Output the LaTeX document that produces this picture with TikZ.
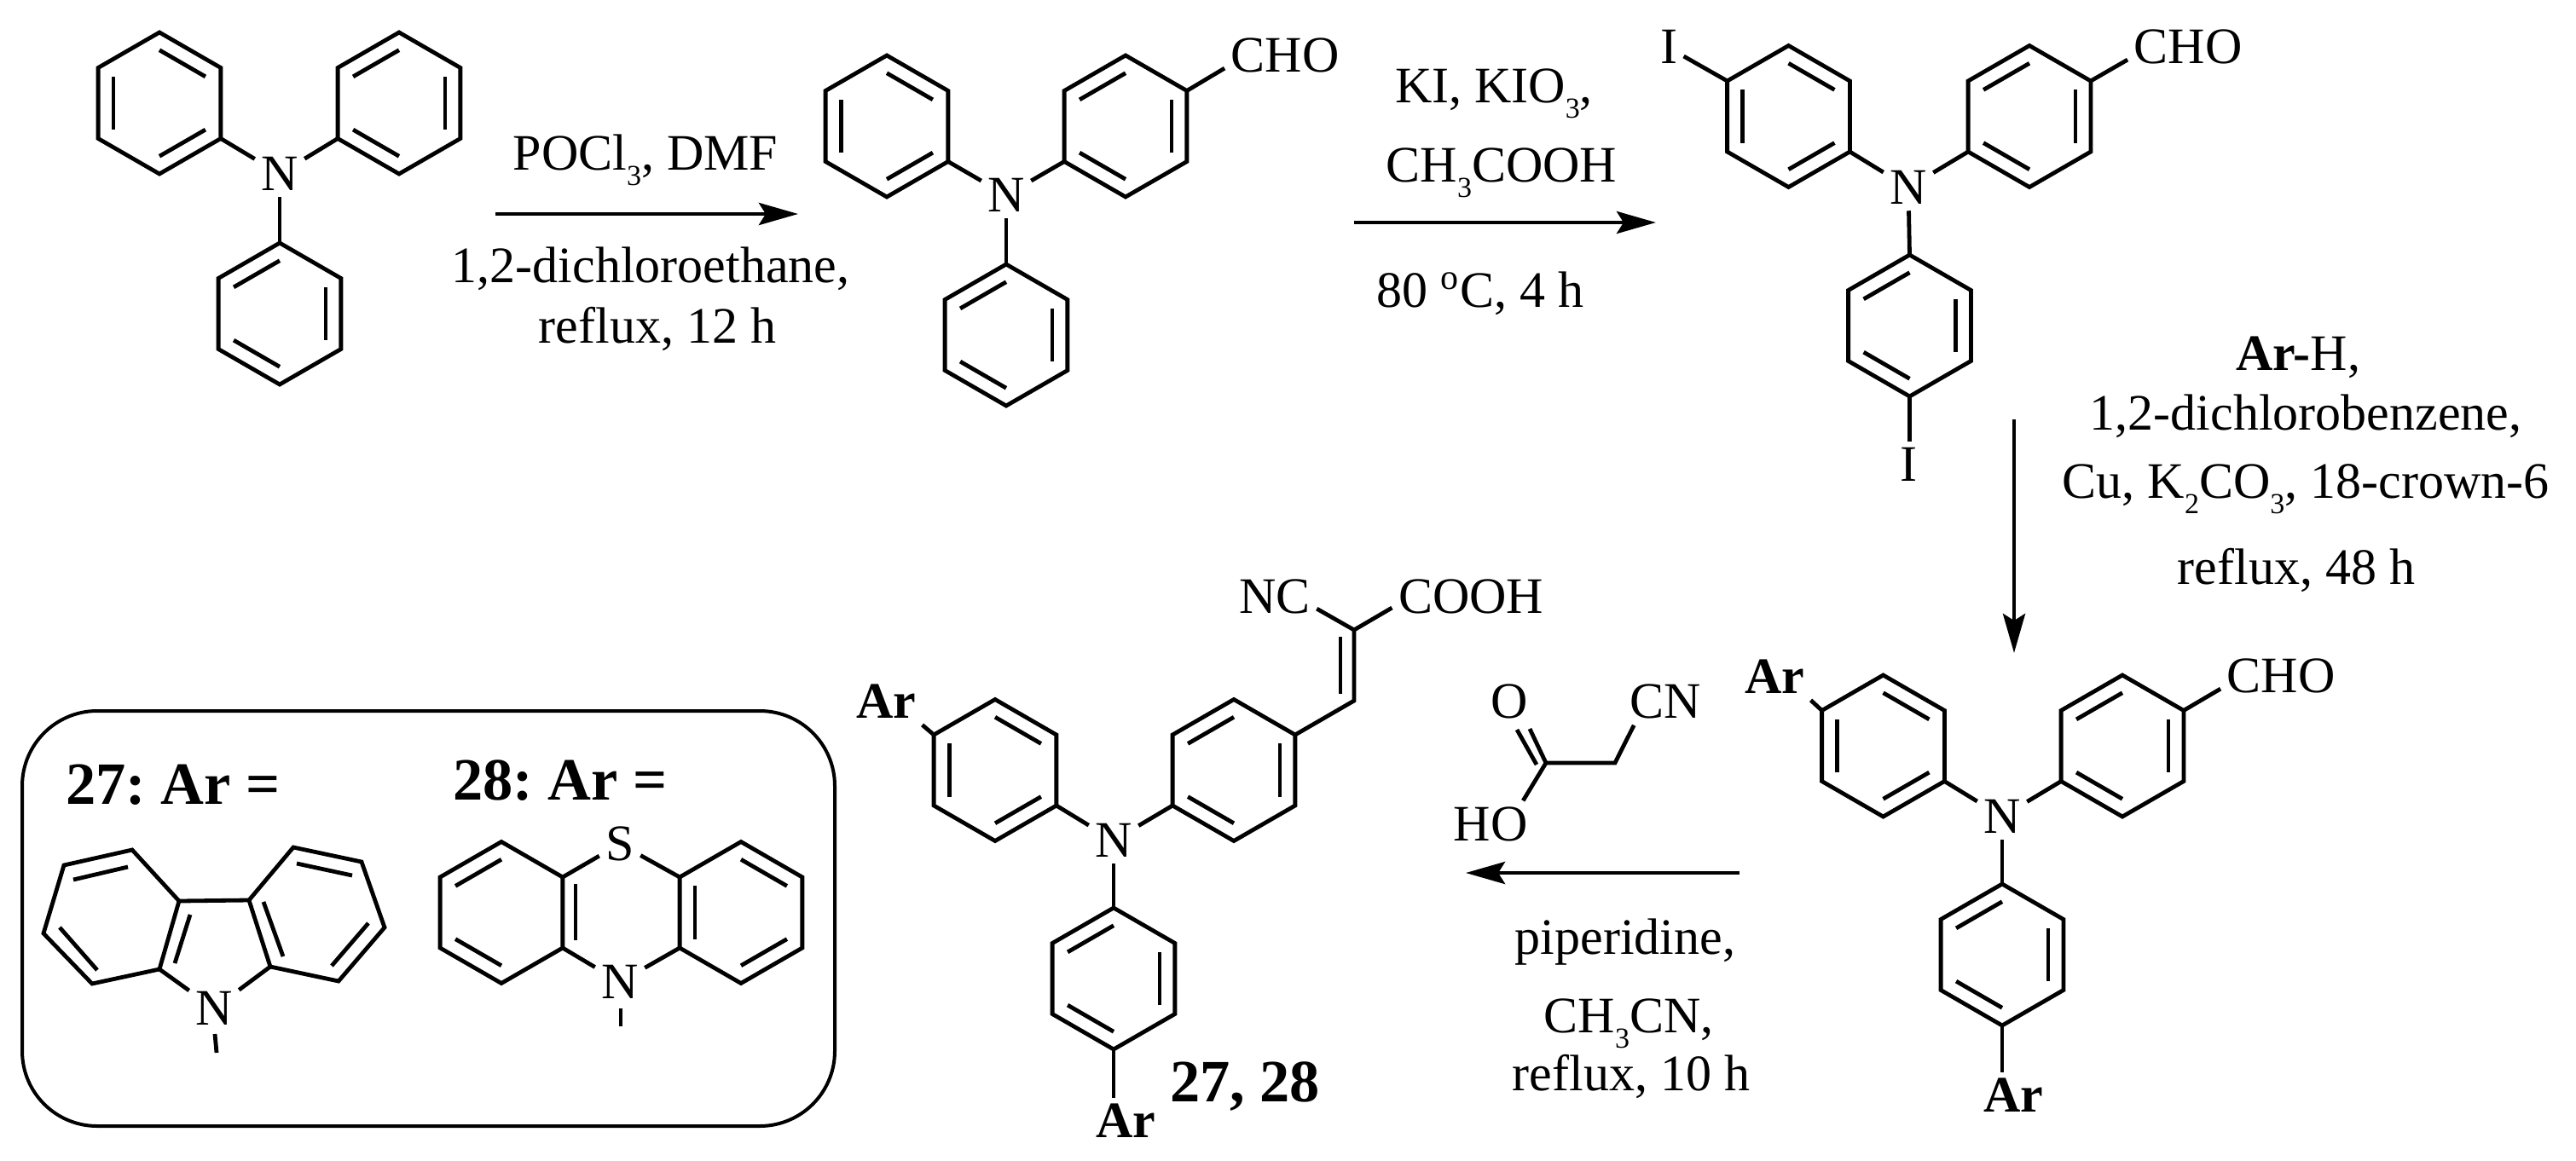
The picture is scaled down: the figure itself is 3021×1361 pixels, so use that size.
\documentclass[tikz,border=0pt]{standalone}
\usepackage{fontspec}
\setmainfont{Liberation Serif}
\usepackage{tikz}
\usetikzlibrary{calc,arrows.meta}
\frenchspacing

\tikzset{
    bond/.style={line width=1.2pt},
    rxn/.style={line width=1.2pt,-{Stealth[length=11.5pt,width=6.5pt,inset=2pt]}},
    atom/.style={inner sep=1.7pt,font=\fontsize{15}{18}\selectfont},
    aratom/.style={atom,font=\fontsize{15}{18}\selectfont\bfseries},
    lbl/.style={anchor=base,inner sep=0pt,font=\fontsize{15}{18}\selectfont},
    biglbl/.style={anchor=base,inner sep=0pt,font=\fontsize{17.6}{20}\selectfont\bfseries}
}

\newcommand{\lowsub}[1]{\raisebox{-4.5pt}{\fontsize{8.5}{10}\selectfont #1}}

% ring: name, centre x, centre y, inner bonds (vertices 1 to 6 clockwise from the top)
\newcommand{\phring}[4]{
    \foreach \i [evaluate=\i as \a using -90+60*(\i-1)] in {1,...,6}
        \coordinate (#1-\i) at ({#2+83*cos(\a)},{#3+83*sin(\a)});
    \draw[bond] (#1-1) -- (#1-2) -- (#1-3) -- (#1-4) -- (#1-5) -- (#1-6) -- cycle;
    \foreach \p/\q in {#4}
        \draw[bond] ($(#2,#3)!.75!(#1-\p)$) -- ($(#2,#3)!.75!(#1-\q)$);
}

\begin{document}
\begin{tikzpicture}[x=.25pt,y=-.25pt]
    \useasboundingbox (0,0) rectangle (3021,1361);

    % triphenylamine
    \phring{tl}{187}{121}{1/2,3/4,5/6}
    \phring{tr}{468}{121}{6/1,2/3,4/5}
    \phring{tb}{328}{368}{6/1,2/3,4/5}
    \node[atom] (tn) at (328,204) {N};
    \draw[bond] (tl-3) -- (tn);
    \draw[bond] (tr-5) -- (tn);
    \draw[bond] (tb-1) -- (tn);

    \coordinate (s1) at (581,251);
    \coordinate (e1) at (936,251);
    \draw[rxn] (s1) -- (e1);
    \node[lbl] (r1a) at (757,199) {POCl\lowsub{3}, DMF};
    \node[lbl] (r1b) at (763,331) {1,2-dichloroethane,};
    \node[lbl] (r1c) at (771,402) {reflux, 12 h};

    % aldehyde
    \phring{al}{1040}{148}{1/2,3/4,5/6}
    \phring{ar}{1320}{148}{6/1,2/3,4/5}
    \phring{ab}{1180}{393}{6/1,2/3,4/5}
    \node[atom] (an) at (1180,229) {N};
    \node[atom] (acho) at (1507,65) {CHO};
    \draw[bond] (al-3) -- (an);
    \draw[bond] (ar-5) -- (an);
    \draw[bond] (ab-1) -- (an);
    \draw[bond] (ar-2) -- (acho.192);

    \coordinate (s2) at (1588,261);
    \coordinate (e2) at (1942,261);
    \draw[rxn] (s2) -- (e2);
    \node[lbl] (r2a) at (1752,120) {KI, KIO\lowsub{3},};
    \node[lbl] (r2b) at (1761,213) {CH\lowsub{3}COOH};
    \node[lbl] (r2c) at (1736,360) {80 \textsuperscript{o}C, 4 h};

    % iodide
    \phring{il}{2097.5}{136.5}{1/2,3/4,5/6}
    \phring{ir}{2380}{136.5}{6/1,2/3,4/5}
    \phring{ib}{2239.5}{382}{6/1,2/3,4/5}
    \node[atom] (in) at (2238,220) {N};
    \node[atom] (icho) at (2566,55) {CHO};
    \node[atom] (itop) at (1957,55) {I};
    \node[atom] (ibot) at (2238,545) {I};
    \draw[bond] (il-3) -- (in);
    \draw[bond] (ir-5) -- (in);
    \draw[bond] (ib-1) -- (in);
    \draw[bond] (ir-2) -- (icho.192);
    \draw[bond] (il-6) -- (itop.-32);
    \draw[bond] (ib-4) -- (ib-4 |- ibot.north);

    \coordinate (s3) at (2362,492);
    \coordinate (e3) at (2362,766);
    \draw[rxn] (s3) -- (e3);
    \node[lbl] (r3a) at (2695,434) {\textbf{Ar-}H,};
    \node[lbl] (r3b) at (2704,504) {1,2-dichlorobenzene,};
    \node[lbl] (r3c) at (2704,584) {Cu, K\lowsub{2}CO\lowsub{3}, 18-crown-6};
    \node[lbl] (r3d) at (2693,685) {reflux, 48 h};

    % diaryl aldehyde
    \phring{dl}{2208.5}{875}{1/2,3/4,5/6}
    \phring{dr}{2489}{875}{6/1,2/3,4/5}
    \phring{db}{2348}{1120}{6/1,2/3,4/5}
    \node[atom] (dn) at (2348,958) {N};
    \node[atom] (dcho) at (2675,793) {CHO};
    \node[aratom] (dar1) at (2081,794) {Ar};
    \node[aratom] (dar2) at (2361,1285) {Ar};
    \draw[bond] (dl-3) -- (dn);
    \draw[bond] (dr-5) -- (dn);
    \draw[bond] (db-1) -- (dn);
    \draw[bond] (dr-2) -- (dcho.192);
    \draw[bond] (dl-6) -- (dar1.south east);
    \draw[bond] (db-4) -- (db-4 |- dar2.north);

    \coordinate (s4) at (2040,1024);
    \coordinate (e4) at (1719,1024);
    \draw[rxn] (s4) -- (e4);
    \node[lbl] (r4a) at (1906,1119) {piperidine,};
    \node[lbl] (r4b) at (1910,1211) {CH\lowsub{3}CN,};
    \node[lbl] (r4c) at (1913,1279) {reflux, 10 h};

    % cyanoacetic acid
    \coordinate (m1) at (1813,895);
    \coordinate (m2) at (1894,895);
    \node[atom] (mo) at (1770,823) {O};
    \node[atom] (mcn) at (1953,823) {CN};
    \node[atom] (mho) at (1748,967) {HO};
    \draw[bond] (m1) -- (m2) -- (mcn.217);
    \draw[bond] (m1) -- (mho.36);
    \draw[bond] (m1) -- (1794,855);
    \draw[bond] (1802,897) -- (1779,856);

    % dye
    \phring{pl}{1167}{903.5}{1/2,3/4,5/6}
    \phring{pr}{1447}{903.5}{6/1,2/3,4/5}
    \phring{pb}{1306}{1148}{6/1,2/3,4/5}
    \node[atom] (pn) at (1306,986) {N};
    \node[aratom] (par1) at (1039,823) {Ar};
    \node[aratom] (par2) at (1320,1315) {Ar};
    \node[atom] (pnc) at (1495,700) {NC};
    \node[atom] (pco) at (1725,700) {COOH};
    \coordinate (v1) at (1588,822);
    \coordinate (v2) at (1588,739);
    \draw[bond] (pl-3) -- (pn);
    \draw[bond] (pr-5) -- (pn);
    \draw[bond] (pb-1) -- (pn);
    \draw[bond] (pl-6) -- (par1.south east);
    \draw[bond] (pb-4) -- (pb-4 |- par2.north);
    \draw[bond] (pr-2) -- (v1) -- (v2);
    \draw[bond] (1572,814) -- (1572,747);
    \draw[bond] (v2) -- (pnc.-16);
    \draw[bond] (v2) -- (pco.188);
    \node[biglbl] (cmp) at (1460,1292) {27, 28};

    % box with the two aryl groups
    \draw[line width=1pt,rounded corners=22pt] (26,834) rectangle (979,1321);
    \node[biglbl] (ar27) at (203,943) {27: Ar =};
    \node[biglbl] (ar28) at (657,938) {28: Ar =};

    % carbazole
    \foreach \n/\x/\y in {ca/155/997,cb/75/1015,cc/51/1095,cd/108/1154,ce/187/1137,cf/210/1057,
                          cg/292/1056,ch/317/1134,ci/397/1151,cj/451/1088,ck/424/1011,cl/344/994}
        \coordinate (\n) at (\x,\y);
    \node[atom] (cn) at (251,1183) {N};
    \coordinate (cm1) at (252,1213);
    \coordinate (cm2) at (254,1235);
    \draw[bond] (ca) -- (cb) -- (cc) -- (cd) -- (ce) -- (cf) -- cycle;
    \draw[bond] (cg) -- (ch) -- (ci) -- (cj) -- (ck) -- (cl) -- cycle;
    \draw[bond] (cf) -- (cg);
    \draw[bond] (ce) -- (cn);
    \draw[bond] (ch) -- (cn);
    \draw[bond] (cm1) -- (cm2);
    \draw[bond] (86,1032) -- (150,1017);
    \draw[bond] (70,1088) -- (114,1138);
    \draw[bond] (205,1130) -- (223,1073);
    \draw[bond] (309,1058) -- (332,1122);
    \draw[bond] (389,1133) -- (432,1083);
    \draw[bond] (348,1013) -- (413,1027);

    % phenothiazine
    \phring{hl}{588}{1070.5}{6/1,4/5}
    \phring{hr}{869}{1070.5}{1/2,3/4,6/5}
    \node[atom] (hs) at (727,990) {S};
    \node[atom] (hn) at (727,1152) {N};
    \coordinate (hm1) at (728,1183);
    \coordinate (hm2) at (728,1204);
    \draw[bond] (hl-2) -- (hs);
    \draw[bond] (hr-6) -- (hs);
    \draw[bond] (hl-3) -- (hn);
    \draw[bond] (hr-5) -- (hn);
    \draw[bond] (hm1) -- (hm2);
    \draw[bond] (675,1037) -- (675,1103);
\end{tikzpicture}
\end{document}
